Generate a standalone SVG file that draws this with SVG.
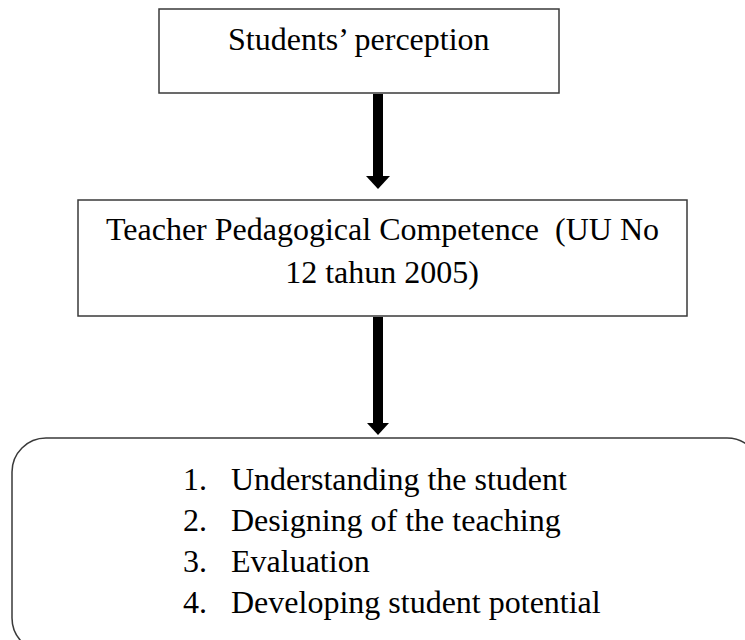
<svg xmlns="http://www.w3.org/2000/svg" width="745" height="640" viewBox="0 0 745 640">
  <style>
    .box { fill: #ffffff; stroke: #3a3a3a; stroke-width: 1.5; }
    .t { font-family: "Liberation Serif", "Times New Roman", serif; font-size: 32px; fill: #000000; white-space: pre; }
    .c { text-anchor: middle; }
    .shaft { fill: #000000; }
  </style>
  <rect width="745" height="640" fill="#ffffff"/>
  <g id="connectors">
    <g id="arrow1">
      <rect class="shaft" x="373" y="94" width="10" height="83"/>
      <polygon class="shaft" points="366,176 390,176 378,189"/>
    </g>
    <g id="arrow2">
      <rect class="shaft" x="373" y="317" width="10" height="107"/>
      <polygon class="shaft" points="367,423 389,423 378,435"/>
    </g>
  </g>
  <g id="node-perception">
    <rect class="box" x="159" y="9" width="400" height="84"/>
    <text class="t" x="228" y="50">Students’ perception</text>
  </g>
  <g id="node-competence">
    <rect class="box" x="78" y="200" width="609" height="116"/>
    <text class="t c" x="382.5" y="240" xml:space="preserve">Teacher Pedagogical Competence  (UU No</text>
    <text class="t c" x="382" y="283">12 tahun 2005)</text>
  </g>
  <g id="node-indicators">
    <rect class="box" x="12" y="438" width="749" height="214" rx="34" ry="34"/>
    <text class="t" x="183" y="490">1.</text>
    <text class="t" x="231" y="490">Understanding the student</text>
    <text class="t" x="183" y="531">2.</text>
    <text class="t" x="231" y="531">Designing of the teaching</text>
    <text class="t" x="183" y="572">3.</text>
    <text class="t" x="231" y="572">Evaluation</text>
    <text class="t" x="183" y="613">4.</text>
    <text class="t" x="231" y="613">Developing student potential</text>
  </g>
</svg>
